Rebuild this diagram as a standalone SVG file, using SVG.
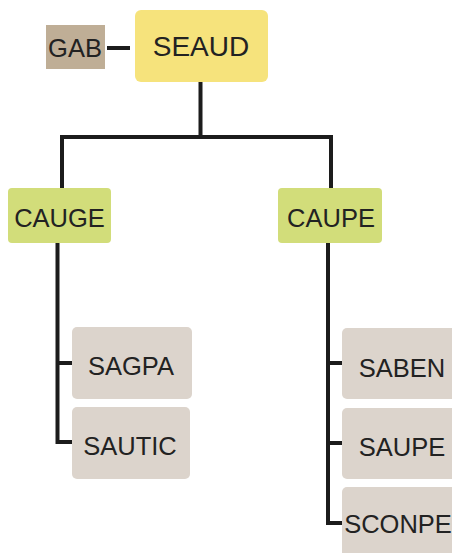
<svg xmlns="http://www.w3.org/2000/svg" width="452" height="553" viewBox="0 0 452 553">
  <style>
    .lbl { font-family: "Liberation Sans", Arial, sans-serif; font-size: 25.5px; fill: #222; text-anchor: middle; }
    .top { font-size: 28px; }
    .wire { fill: none; stroke: #1c1c1c; stroke-width: 4; stroke-linejoin: miter; }
    .unit { fill: #dcd4cc; }
    .dept { fill: #d2dd7a; }
  </style>
  <rect width="452" height="553" fill="#ffffff"/>

  <g id="connectors">
    <line class="wire" x1="107" y1="48" x2="130" y2="48"/>
    <path class="wire" d="M200.5 82 V137 M62 190 V137 H331 V190"/>
    <path class="wire" d="M57.5 243 V442 H72 M57.5 363 H72"/>
    <path class="wire" d="M328 243 V523 H342 M328 363 H342 M328 443 H342"/>
  </g>

  <g id="gab">
    <rect x="46" y="25" width="59" height="44" fill="#bfae96"/>
    <text class="lbl" x="75" y="57">GAB</text>
  </g>
  <g id="seaud">
    <rect x="135" y="10" width="133" height="72" rx="6" fill="#f6e37c"/>
    <text class="lbl top" x="201" y="56">SEAUD</text>
  </g>
  <g id="cauge">
    <rect class="dept" x="8" y="188" width="103" height="55" rx="4"/>
    <text class="lbl" x="59.5" y="227">CAUGE</text>
  </g>
  <g id="caupe">
    <rect class="dept" x="278" y="188" width="104" height="55" rx="4"/>
    <text class="lbl" x="331" y="227">CAUPE</text>
  </g>
  <g id="sagpa">
    <rect class="unit" x="72" y="327" width="120" height="72" rx="5"/>
    <text class="lbl" x="131" y="375">SAGPA</text>
  </g>
  <g id="sautic">
    <rect class="unit" x="72" y="407" width="118" height="72" rx="5"/>
    <text class="lbl" x="130" y="455">SAUTIC</text>
  </g>
  <g id="saben">
    <rect class="unit" x="342" y="328" width="120" height="71" rx="5"/>
    <text class="lbl" x="402" y="377">SABEN</text>
  </g>
  <g id="saupe">
    <rect class="unit" x="342" y="408" width="120" height="71" rx="5"/>
    <text class="lbl" x="402" y="456">SAUPE</text>
  </g>
  <g id="sconpe">
    <rect class="unit" x="342" y="487" width="120" height="72" rx="5"/>
    <text class="lbl" x="398" y="533" font-size="25">SCONPE</text>
  </g>
</svg>
